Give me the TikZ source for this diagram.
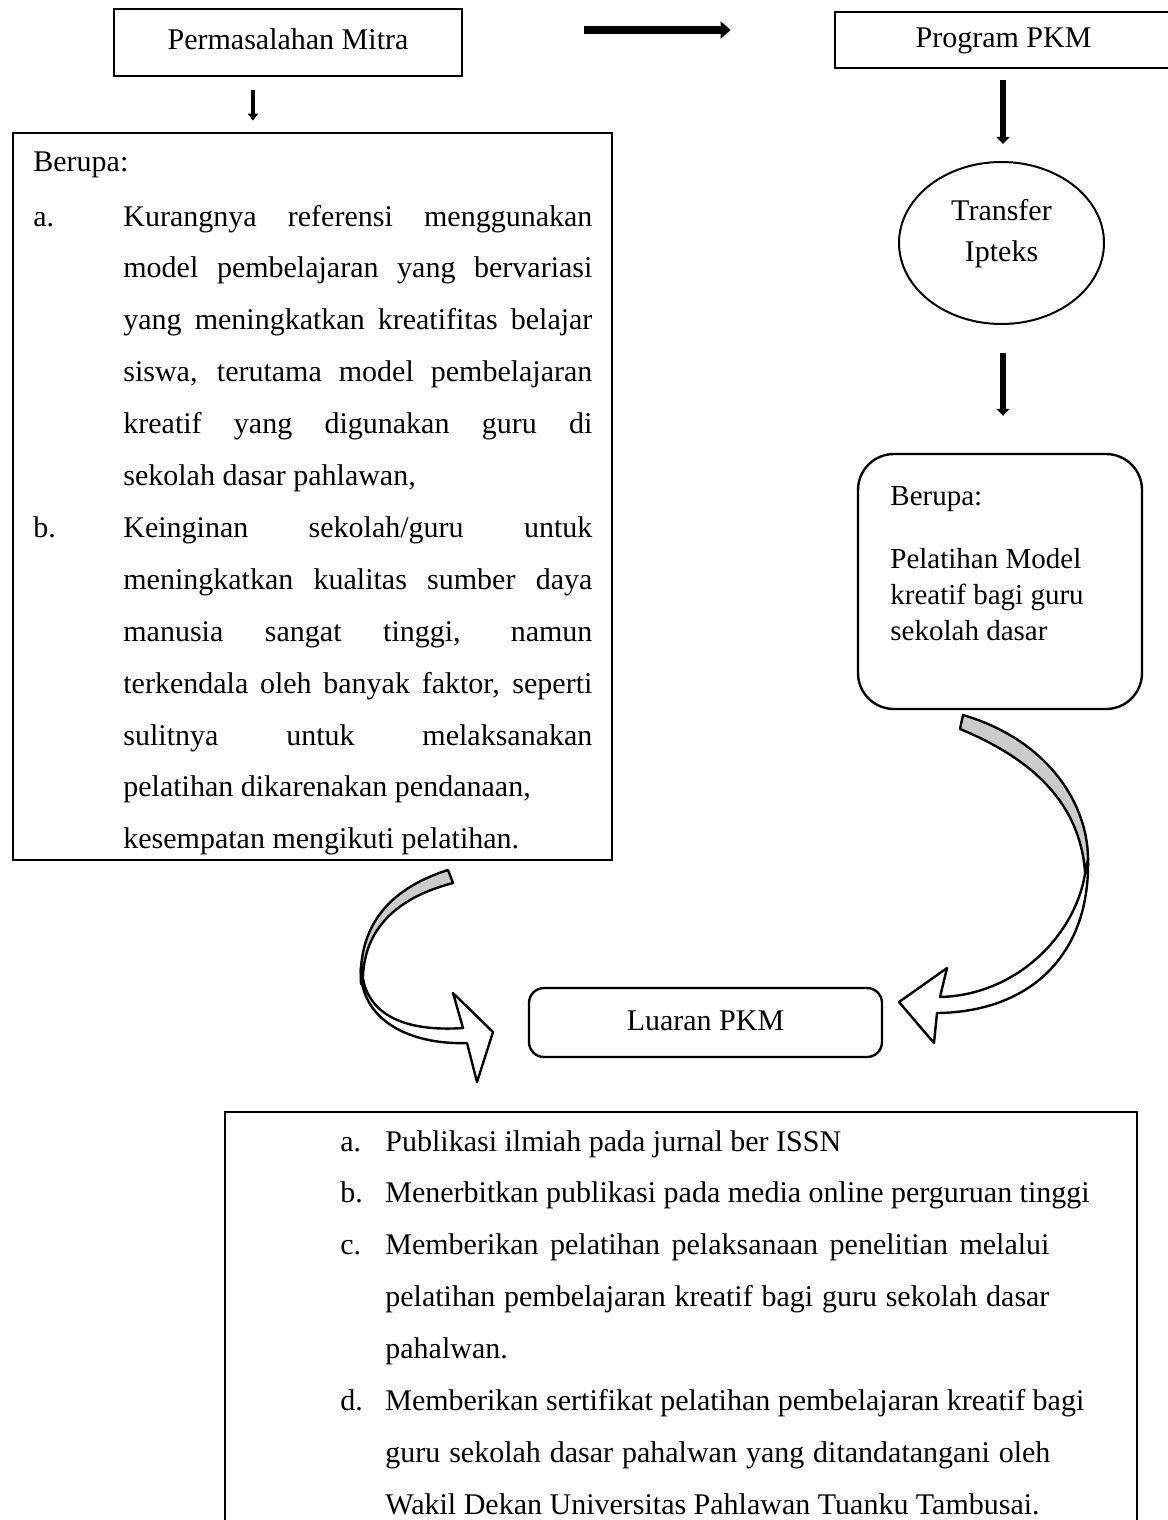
\documentclass[tikz,border=0pt]{standalone}
\usepackage{fontspec}
\setmainfont{Liberation Serif}
\usetikzlibrary{arrows.meta,shapes.geometric,calc}
\definecolor{bandgray}{HTML}{CBCBCB}
\begin{document}
\begin{tikzpicture}[x=0.5pt,y=-0.5pt,
  box/.style={draw, line width=1.4pt, inner sep=0pt},
  boxtxt/.style={font=\fontsize{15}{18}\selectfont, text height=10.5pt, text depth=3pt},
  txt/.style={inner sep=0pt, anchor=base west, font=\fontsize{15}{18}\selectfont},
  smtxt/.style={inner sep=0pt, anchor=base west, font=\fontsize{14.5}{18}\selectfont},
  ctxt/.style={inner sep=0pt, anchor=base, font=\fontsize{15}{18}\selectfont},
  band/.style={draw, line width=1.2pt, line join=round},
  smallarr/.style={line width=2pt, -{Triangle[width=5pt,length=3.5pt]}},
  midarr/.style={line width=3pt, -{Triangle[width=6.5pt,length=3.5pt]}},
  bigarr/.style={line width=4pt, -{Triangle[width=8.5pt,length=5pt]}},
]
\useasboundingbox (0,0) rectangle (1167,1520);

% boxes
\node[box, boxtxt, minimum width=174pt, minimum height=33.5pt] (perm) at (288,42.5) {Permasalahan Mitra};
\node[box, boxtxt, minimum width=168.5pt, minimum height=28pt] (prog) at (1003.5,40) {Program PKM};
\node[box, minimum width=299.5pt, minimum height=363.5pt] (masalah) at (312.5,496.5) {};
\node[draw, ellipse, line width=1pt, minimum width=102.5pt, minimum height=81pt, inner sep=0pt] (transfer) at (1001.5,243) {};
\node[draw, line width=1.2pt, rounded corners=18pt, minimum width=142pt, minimum height=127.5pt, inner sep=0pt] (berupa) at (1000,581.5) {};
\node[draw, line width=1.2pt, rounded corners=7.5pt, boxtxt, minimum width=176.5pt, minimum height=34.5pt, inner sep=0pt] (luaran) at (705.5,1022.5) {Luaran PKM};
\node[box, minimum width=456pt, minimum height=214pt] (hasil) at (681,1326) {};

% straight arrows
\draw[smallarr] ($(perm.south)+(-35,13)$) -- ($(masalah.north)+(-59.5,-11)$);
\draw[bigarr] ($(perm.east)+(121,-12.5)$) -- ($(prog.west)+(-103,-10)$);
\draw[midarr] ($(prog.south)+(-0.5,11)$) -- ($(transfer.north)+(1.5,-17)$);
\draw[midarr] ($(transfer.south)+(1.5,28)$) -- ($(berupa.north)+(3,-37)$);

% ellipse text
\node[ctxt] (tr1) at (1001.5,220) {Transfer};
\node[ctxt] (tr2) at (1001.5,261) {Ipteks};

% rounded box text
\node[smtxt] (r0) at (890,505) {Berupa:};
\node[smtxt] (r1) at (890,568) {Pelatihan Model};
\node[smtxt] (r2) at (890,604) {kreatif bagi guru};
\node[smtxt] (r3) at (890,640) {sekolah dasar};

% left box text
\node[txt] (m0) at (33,171) {Berupa:};
\node[txt] (ma) at (33,226) {a.};
\node[txt] (m1) at (123,226) {\makebox[234.5pt][s]{Kurangnya referensi menggunakan}};
\node[txt] (m2) at (123,277.9) {\makebox[234.5pt][s]{model pembelajaran yang bervariasi}};
\node[txt] (m3) at (123,329.8) {\makebox[234.5pt][s]{yang meningkatkan kreatifitas belajar}};
\node[txt] (m4) at (123,381.7) {\makebox[234.5pt][s]{siswa, terutama model pembelajaran}};
\node[txt] (m5) at (123,433.6) {\makebox[234.5pt][s]{kreatif yang digunakan guru di}};
\node[txt] (m6) at (123,485.5) {sekolah dasar pahlawan,};
\node[txt] (mb) at (33,537.4) {b.};
\node[txt] (m7) at (123,537.4) {\makebox[234.5pt][s]{Keinginan sekolah/guru untuk}};
\node[txt] (m8) at (123,589.3) {\makebox[234.5pt][s]{meningkatkan kualitas sumber daya}};
\node[txt] (m9) at (123,641.2) {\makebox[234.5pt][s]{manusia sangat tinggi, namun}};
\node[txt] (m10) at (123,693.1) {\makebox[234.5pt][s]{terkendala oleh banyak faktor, seperti}};
\node[txt] (m11) at (123,745) {\makebox[234.5pt][s]{sulitnya untuk melaksanakan}};
\node[txt] (m12) at (123,796.9) {pelatihan dikarenakan pendanaan,};
\node[txt] (m13) at (123,848.8) {kesempatan mengikuti pelatihan.};

% bottom box text
\node[txt] (la) at (340,1151) {a.};
\node[txt] (l1) at (385,1151) {Publikasi ilmiah pada jurnal ber ISSN};
\node[txt] (lb) at (340,1202.9) {b.};
\node[txt] (l2) at (385,1202.9) {Menerbitkan publikasi pada media online perguruan tinggi};
\node[txt] (lc) at (340,1254.8) {c.};
\node[txt] (l3) at (385,1254.8) {\makebox[332pt][s]{Memberikan pelatihan pelaksanaan penelitian melalui}};
\node[txt] (l4) at (385,1306.7) {\makebox[332pt][s]{pelatihan pembelajaran kreatif bagi guru sekolah dasar}};
\node[txt] (l5) at (385,1358.6) {pahalwan.};
\node[txt] (ld) at (340,1410.5) {d.};
\node[txt] (l6) at (385,1410.5) {Memberikan sertifikat pelatihan pembelajaran kreatif bagi};
\node[txt] (l7) at (385,1462.4) {\makebox[332.5pt][s]{guru sekolah dasar pahalwan yang ditandatangani oleh}};
\node[txt] (l8) at (385,1514.3) {Wakil Dekan Universitas Pahlawan Tuanku Tambusai.};

% right curved arrow (berupa -> luaran)
\draw[band, fill=bandgray] (963,715) .. controls (1048,740) and (1090,805) .. (1088,864)
  -- (1085,872) .. controls (1080,805) and (1035,760) .. (960,729) -- cycle;
\draw[band, fill=white] (1088,860) .. controls (1090,955) and (1030,1012) .. (937,1013)
  -- (934,1043) -- (899,1002) -- (947,968) -- (940,997)
  .. controls (1020,995) and (1080,930) .. (1086,866) -- cycle;

% left curved arrow (masalah -> luaran)
\draw[band, fill=bandgray] (448,870) .. controls (385,890) and (358,930) .. (361,984)
  -- (363,976) .. controls (365,930) and (395,898) .. (453,883) -- cycle;
\draw[band, fill=white] (361,966) .. controls (358,1020) and (410,1045) .. (467,1043)
  -- (477,1082) -- (493,1032) -- (453,993) -- (463,1028)
  .. controls (405,1032) and (366,1015) .. (362,972) -- cycle;
\end{tikzpicture}
\end{document}
